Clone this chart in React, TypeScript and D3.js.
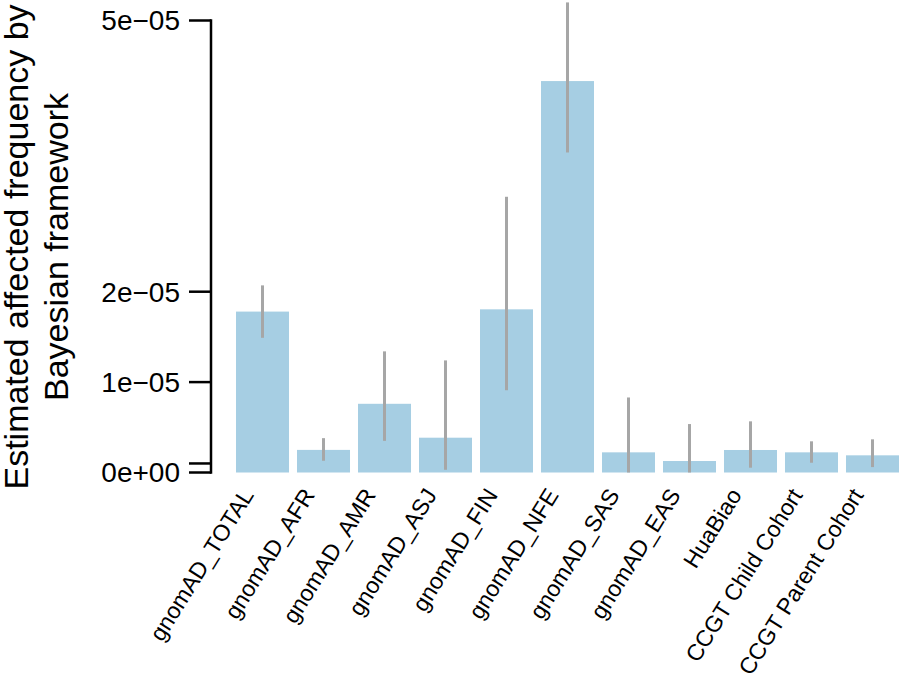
import React from 'react';
import * as d3 from 'd3';

// values, in units of 1e-6
const categories = [
  'gnomAD_TOTAL',
  'gnomAD_AFR',
  'gnomAD_AMR',
  'gnomAD_ASJ',
  'gnomAD_FIN',
  'gnomAD_NFE',
  'gnomAD_SAS',
  'gnomAD_EAS',
  'HuaBiao',
  'CCGT Child Cohort',
  'CCGT Parent Cohort',
];
const estimate = [17.8, 2.5, 7.6, 3.85, 18.05, 43.3, 2.23, 1.27, 2.49, 2.23, 1.9];
const lower = [14.9, 1.3, 3.5, 0.3, 9.1, 35.4, 0.0, 0.0, 0.53, 1.08, 0.6];
const upper = [20.7, 3.8, 13.4, 12.4, 30.5, 52.0, 8.3, 5.36, 5.66, 3.45, 3.67];

const tickValues = [0, 1e-6, 1e-5, 2e-5, 5e-5];
const tickLabels = ['0e+00', '', '1e\u221205', '2e\u221205', '5e\u221205'];

const W = 912;
const H = 686;
const FONT = "'Liberation Sans', Arial, Helvetica, sans-serif";

export default function App() {
  const x = d3.scaleBand<string>().domain(categories).range([236, 899]).paddingInner(0.131).paddingOuter(0);
  const y = d3.scaleLinear().domain([0, 5e-5]).range([472.5, 20.5]);
  const axisX = 211;

  return (
    <div style={{ position: 'absolute', left: 0, top: 0 }}>
      <svg width={W} height={H} style={{ display: 'block', background: '#fff' }} fontFamily={FONT}>
        {/* bars */}
        {categories.map((c, i) => (
          <rect
            key={c}
            x={x(c)}
            y={y(estimate[i] * 1e-6)}
            width={x.bandwidth()}
            height={y(0) - y(estimate[i] * 1e-6)}
            fill="#a6cee3"
          />
        ))}

        {/* error bars */}
        {categories.map((c, i) => {
          const cx = (x(c) as number) + x.bandwidth() / 2;
          return (
            <line
              key={c}
              x1={cx}
              x2={cx}
              y1={y(upper[i] * 1e-6)}
              y2={y(lower[i] * 1e-6)}
              stroke="#a6a6a6"
              strokeWidth={3}
            />
          );
        })}

        {/* y axis */}
        <line x1={axisX} x2={axisX} y1={y(0)} y2={y(5e-5)} stroke="#000" strokeWidth={2.5} strokeLinecap="square" />
        {tickValues.map((t, i) => (
          <g key={i}>
            <line x1={axisX - 22} x2={axisX} y1={y(t)} y2={y(t)} stroke="#000" strokeWidth={2.5} />
            <text x={180} y={y(t)} dy="0.35em" textAnchor="end" fontSize={28} fill="#000">
              {tickLabels[i]}
            </text>
          </g>
        ))}

        {/* category labels */}
        {categories.map((c) => {
          const cx = (x(c) as number) + x.bandwidth() / 2;
          return (
            <text
              key={c}
              transform={`translate(${cx - 8},${495}) rotate(-58)`}
              textAnchor="end"
              fontSize={23}
              fill="#000"
            >
              {c}
            </text>
          );
        })}

        {/* y title */}
        <g transform="translate(0,247) rotate(-90)">
          <text x={0} y={28} textAnchor="middle" fontSize={34} fill="#000">
            Estimated affected frequency by
          </text>
          <text x={0} y={68} textAnchor="middle" fontSize={34} fill="#000">
            Bayesian framework
          </text>
        </g>
      </svg>
    </div>
  );
}
